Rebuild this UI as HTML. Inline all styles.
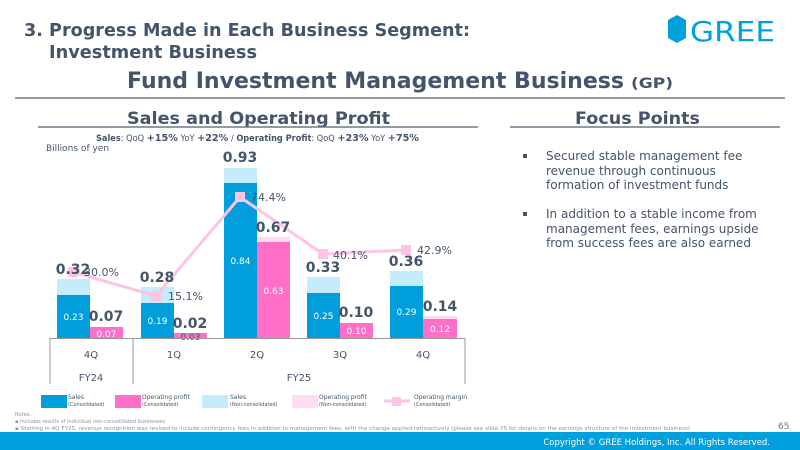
<!DOCTYPE html>
<html><head><meta charset="utf-8"><style>
html,body{margin:0;padding:0;background:#fff;}
svg{display:block;}
text{font-family:"DejaVu Sans","Liberation Sans",sans-serif;}
</style></head><body>
<svg width="800" height="450" viewBox="0 0 800 450" xmlns="http://www.w3.org/2000/svg">
<rect width="800" height="450" fill="#fff"/>
<!-- header -->
<g fill="#44546a" font-weight="bold">
<text x="24" y="36" font-size="18" textLength="446" lengthAdjust="spacingAndGlyphs">3. Progress Made in Each Business Segment:</text>
<text x="49" y="58" font-size="18" textLength="208" lengthAdjust="spacingAndGlyphs">Investment Business</text>
<text x="127" y="88" font-size="22" textLength="497" lengthAdjust="spacingAndGlyphs">Fund Investment Management Business</text>
<text x="631" y="88" font-size="14" textLength="42" lengthAdjust="spacingAndGlyphs">(GP)</text>
<text x="127" y="124" font-size="17" textLength="263" lengthAdjust="spacingAndGlyphs">Sales and Operating Profit</text>
<text x="575" y="124" font-size="17" textLength="125" lengthAdjust="spacingAndGlyphs">Focus Points</text>
</g>
<polygon points="677,15 686,20 686,38 677,43 668,38 668,20" fill="#00a0dc"/>
<text x="690" y="41" font-size="28" fill="#00a0dc" font-family="Liberation Sans" textLength="85" lengthAdjust="spacingAndGlyphs">GREE</text>
<line x1="15" y1="98" x2="785" y2="98" stroke="#6b7a8a" stroke-width="1.5"/>
<line x1="38" y1="127" x2="478" y2="127" stroke="#6b7a8a" stroke-width="1.5"/>
<line x1="510" y1="127" x2="780" y2="127" stroke="#6b7a8a" stroke-width="1.5"/>
<!-- subtitle -->
<text x="96" y="141" font-size="8.5" fill="#44546a" textLength="323" lengthAdjust="spacingAndGlyphs"><tspan font-weight="bold">Sales</tspan>: QoQ <tspan font-weight="bold" font-size="10">+15%</tspan> YoY <tspan font-weight="bold" font-size="10">+22%</tspan> / <tspan font-weight="bold">Operating Profit</tspan>: QoQ <tspan font-weight="bold" font-size="10">+23%</tspan> YoY <tspan font-weight="bold" font-size="10">+75%</tspan></text>
<text x="46" y="151" font-size="9" fill="#44546a">Billions of yen</text>
<!-- bars -->
<g>
<rect x="57" y="279" width="33" height="59" fill="#c5ecfb"/><rect x="57" y="295" width="33" height="43" fill="#009fdb"/>
<rect x="90" y="327" width="33" height="11" fill="#ff6fc8"/>
<rect x="141" y="287" width="33" height="51" fill="#c5ecfb"/><rect x="141" y="303" width="33" height="35" fill="#009fdb"/>
<rect x="174" y="333" width="33" height="5" fill="#ff6fc8"/>
<rect x="224" y="168" width="33" height="170" fill="#c5ecfb"/><rect x="224" y="183" width="33" height="155" fill="#009fdb"/>
<rect x="257" y="237" width="33" height="101" fill="#ffdcf2"/><rect x="257" y="242" width="33" height="96" fill="#ff6fc8"/>
<rect x="307" y="277" width="33" height="61" fill="#c5ecfb"/><rect x="307" y="293" width="33" height="45" fill="#009fdb"/>
<rect x="340" y="323" width="33" height="15" fill="#ff6fc8"/>
<rect x="390" y="271" width="33" height="67" fill="#c5ecfb"/><rect x="390" y="286" width="33" height="52" fill="#009fdb"/>
<rect x="423" y="316" width="34" height="22" fill="#ffdcf2"/><rect x="423" y="319" width="34" height="19" fill="#ff6fc8"/>
</g>
<g fill="#fff" font-size="9" text-anchor="middle">
<text x="73.5" y="320">0.23</text><text x="106.5" y="337">0.07</text>
<text x="157.5" y="324">0.19</text><text x="190.5" y="340" fill="#44546a">0.03</text>
<text x="240.5" y="264">0.84</text><text x="273.5" y="294">0.63</text>
<text x="323.5" y="319">0.25</text><text x="356.5" y="334">0.10</text>
<text x="406.5" y="315">0.29</text><text x="440" y="332">0.12</text>
</g>
<!-- line -->
<polyline points="73,272 156,296 240,197 323,254 406,250" fill="none" stroke="#ffc3e6" stroke-width="3"/>
<g fill="#ffc3e6">
<rect x="68" y="267" width="10" height="10"/><rect x="151" y="291" width="10" height="10"/><rect x="235" y="192" width="10" height="10"/><rect x="318" y="249" width="10" height="10"/><rect x="401" y="245" width="10" height="10"/>
</g>
<g fill="#44546a" font-size="11">
<text x="84" y="276">30.0%</text><text x="168" y="300">15.1%</text><text x="251" y="201">74.4%</text><text x="333" y="259">40.1%</text><text x="417" y="254">42.9%</text>
</g>
<g fill="#44546a" font-size="14" font-weight="bold" text-anchor="middle">
<text x="73" y="274">0.32</text><text x="106" y="321">0.07</text>
<text x="157" y="282">0.28</text><text x="190" y="328">0.02</text>
<text x="240" y="162">0.93</text><text x="273" y="232">0.67</text>
<text x="323" y="272">0.33</text><text x="356" y="317">0.10</text>
<text x="406" y="266">0.36</text><text x="440" y="311">0.14</text>
</g>
<!-- axis -->
<g stroke="#999" stroke-width="1" fill="none">
<line x1="50" y1="338.5" x2="465" y2="338.5"/>
<line x1="50" y1="338" x2="50" y2="384"/>
<line x1="133" y1="338" x2="133" y2="384"/>
<line x1="465" y1="338" x2="465" y2="384"/>
</g>
<g fill="#44546a" font-size="10" text-anchor="middle">
<text x="91" y="358">4Q</text><text x="174" y="358">1Q</text><text x="257" y="358">2Q</text><text x="340" y="358">3Q</text><text x="423" y="358">4Q</text>
<text x="91" y="381">FY24</text><text x="299" y="381">FY25</text>
</g>
<!-- legend -->
<rect x="41" y="395" width="26" height="13" fill="#009fdb"/>
<rect x="115" y="395" width="26" height="13" fill="#ff6fc8"/>
<rect x="202" y="395" width="26" height="13" fill="#c5ecfb"/>
<rect x="292" y="395" width="26" height="13" fill="#ffdcf2"/>
<line x1="384" y1="401" x2="410" y2="401" stroke="#ffc3e6" stroke-width="3"/><rect x="392" y="397" width="9" height="9" fill="#ffc3e6"/>
<g fill="#44546a" font-size="6">
<text x="68" y="399">Sales</text><text x="68" y="406" font-size="5">(Consolidated)</text>
<text x="142" y="399">Operating profit</text><text x="142" y="406" font-size="5">(Consolidated)</text>
<text x="230" y="399">Sales</text><text x="230" y="406" font-size="5">(Non-consolidated)</text>
<text x="319" y="399">Operating profit</text><text x="319" y="406" font-size="5">(Non-consolidated)</text>
<text x="414" y="399">Operating margin</text><text x="414" y="406" font-size="5">(Consolidated)</text>
</g>
<g fill="#8a96a3" font-size="5">
<text x="15" y="416">Notes:</text>
<text x="15" y="423">▪  Includes results of individual non-consolidated businesses</text>
<text x="15" y="430" textLength="675" lengthAdjust="spacingAndGlyphs">▪  Starting in 4Q FY25, revenue recognition was revised to include contingency fees in addition to management fees, with the change applied retroactively (please see slide 75 for details on the earnings structure of the investment business)</text>
</g>
<text x="778" y="429" font-size="9" fill="#6b7a8a">65</text>
<!-- focus points -->
<g fill="#44546a" font-size="12">
<rect x="523" y="154" width="4" height="4" fill="#44546a"/>
<text x="546" y="160">Secured stable management fee</text>
<text x="546" y="175">revenue through continuous</text>
<text x="546" y="189">formation of investment funds</text>
<rect x="523" y="212" width="4" height="4" fill="#44546a"/>
<text x="546" y="218">In addition to a stable income from</text>
<text x="546" y="233">management fees, earnings upside</text>
<text x="546" y="247">from success fees are also earned</text>
</g>
<!-- footer -->
<rect x="0" y="432" width="800" height="18" fill="#00a0dc"/>
<text x="770" y="445" font-size="8.5" fill="#fff" text-anchor="end">Copyright © GREE Holdings, Inc. All Rights Reserved.</text>
</svg>
</body></html>
